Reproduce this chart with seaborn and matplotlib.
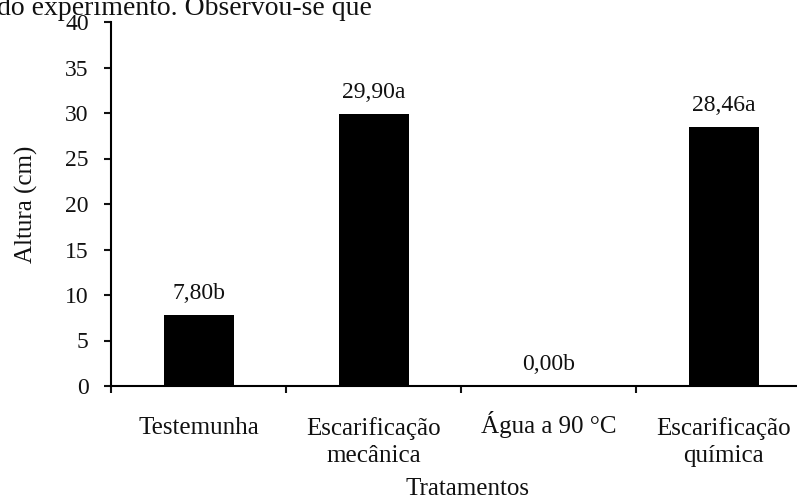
import matplotlib
matplotlib.use("Agg")
import matplotlib.pyplot as plt
import matplotlib.transforms as mtransforms
import seaborn as sns
import pandas as pd

# Altura das plântulas por tratamento de superação de dormência
tratamentos = ["Testemunha", "Escarificação\nmecânica", "Água a 90 °C", "Escarificação\nquímica"]
altura = [7.80, 29.90, 0.00, 28.46]
letras = ["b", "a", "b", "a"]
yticks = [0, 5, 10, 15, 20, 25, 30, 35, 40]

sns.set_style("ticks")
plt.rcParams["font.family"] = ["Liberation Serif", "DejaVu Serif"]
plt.rcParams["text.color"] = "#111111"
plt.rcParams["axes.labelcolor"] = "#111111"
plt.rcParams["xtick.color"] = "#111111"
plt.rcParams["ytick.color"] = "#111111"

df = pd.DataFrame({"Tratamentos": tratamentos, "Altura": altura})

fig = plt.figure(figsize=(7.97, 5.0), dpi=100)
ax = fig.add_axes([111 / 797, 114 / 500, 700 / 797, 364 / 500])

sns.barplot(data=df, x="Tratamentos", y="Altura", color="black",
            saturation=1, width=0.4, edgecolor="none", ax=ax)

ax.set_xlim(-0.5, 3.5)
ax.set_ylim(0, 40)
ax.set_yticks(yticks)
ax.set_yticklabels([str(v) for v in yticks], fontsize=17)

# category boundaries carry the tick marks, labels sit at the centres
ax.set_xticks([-0.5, 0.5, 1.5, 2.5, 3.5])
ax.set_xticklabels([])
ax.set_xticks(range(len(tratamentos)), minor=True)
ax.set_xticklabels(tratamentos, minor=True, fontsize=18, linespacing=1.33)
ax.tick_params(axis="x", which="minor", length=0, pad=22)
ax.tick_params(axis="x", which="major", length=5, width=1.5, direction="out")
ax.tick_params(axis="y", length=5, width=1.5, direction="out", pad=11)

# the accent on "Á" makes its box taller; lift it so all first lines share a baseline
lab = ax.xaxis.get_minor_ticks()[2].label1
lab.set_transform(lab.get_transform()
                  + mtransforms.ScaledTranslation(0, 4 / 72, fig.dpi_scale_trans))

for s in ["top", "right"]:
    ax.spines[s].set_visible(False)
for s in ["left", "bottom"]:
    ax.spines[s].set_linewidth(1.5)
    ax.spines[s].set_color("black")

ax.set_ylabel("Altura (cm)", fontsize=18)
ax.yaxis.set_label_coords(-0.104, 0.5)
ax.set_xlabel("Tratamentos", fontsize=18, va="top")
ax.xaxis.set_label_coords(0.509, -0.2535)

for i, (v, l) in enumerate(zip(altura, letras)):
    txt = f"{v:.2f}".replace(".", ",") + l
    ax.annotate(txt, (i, v), xytext=(0, 11.5), textcoords="offset points",
                ha="center", va="baseline", fontsize=17)

fig.text(-3 / 797, 1 - 15 / 500, "do experimento. Observou-se que",
         fontsize=20, ha="left", va="baseline")

fig.savefig("out.png", dpi=100)
